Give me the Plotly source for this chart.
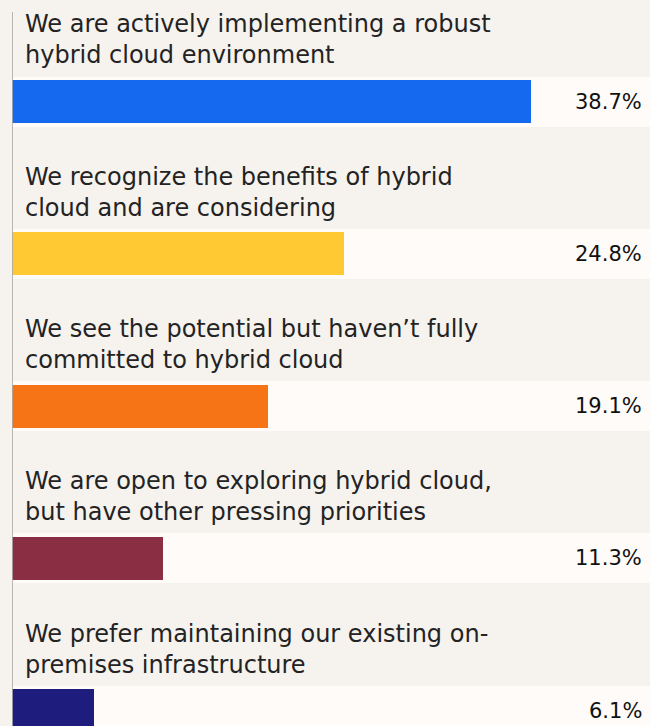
import plotly.graph_objects as go

categories = [
    "We are actively implementing a robust<br>hybrid cloud environment",
    "We recognize the benefits of hybrid<br>cloud and are considering",
    "We see the potential but haven’t fully<br>committed to hybrid cloud",
    "We are open to exploring hybrid cloud,<br>but have other pressing priorities",
    "We prefer maintaining our existing on-<br>premises infrastructure",
]
values = [38.7, 24.8, 19.1, 11.3, 6.1]
value_labels = ["38.7%", "24.8%", "19.1%", "11.3%", "6.1%"]
colors = ["#1469ef", "#ffc933", "#f67316", "#8a2f43", "#1e1c7c"]

X_MAX = 47.6
BG = "#f6f2ee"
BAND = "#fefbf8"
FONT = "DejaVu Sans"

ypos = list(range(len(categories)))

fig = go.Figure()
fig.add_trace(go.Bar(
    x=[X_MAX] * len(ypos), y=ypos, orientation="h", width=0.3284,
    marker=dict(color=BAND, line=dict(width=0)), hoverinfo="skip", showlegend=False,
))
fig.add_trace(go.Bar(
    x=values, y=ypos, orientation="h", width=0.2824,
    marker=dict(color=colors, line=dict(width=0)), showlegend=False,
))

annotations = []
for i, (cat, lab) in enumerate(zip(categories, value_labels)):
    annotations.append(dict(
        x=0, y=i, xref="x", yref="y", text=cat, showarrow=False,
        xanchor="left", yanchor="bottom", align="left",
        xshift=11, yshift=30,
        font=dict(family=FONT, size=24, color="#232323"),
    ))
    annotations.append(dict(
        x=1, y=i, xref="paper", yref="y", text=lab, showarrow=False,
        xanchor="right", yanchor="middle", xshift=-6,
        font=dict(family=FONT, size=21, color="#111111"),
    ))

fig.update_layout(
    width=650, height=726,
    margin=dict(l=12, r=0, t=0, b=0),
    paper_bgcolor=BG, plot_bgcolor=BG,
    barmode="overlay", bargap=0,
    xaxis=dict(range=[0, X_MAX], visible=False, fixedrange=True),
    yaxis=dict(range=[4.1018, -0.6667], visible=False, fixedrange=True),
    annotations=annotations,
    shapes=[dict(type="line", xref="x", yref="paper", x0=0, x1=0, y0=0, y1=0.9835,
                 line=dict(color="#ababab", width=1.7), layer="above")],
)

fig.write_html(
    "out.html",
    config={"displayModeBar": False},
    post_script="document.body.style.margin='0';document.body.style.background='%s';" % BG,
)
